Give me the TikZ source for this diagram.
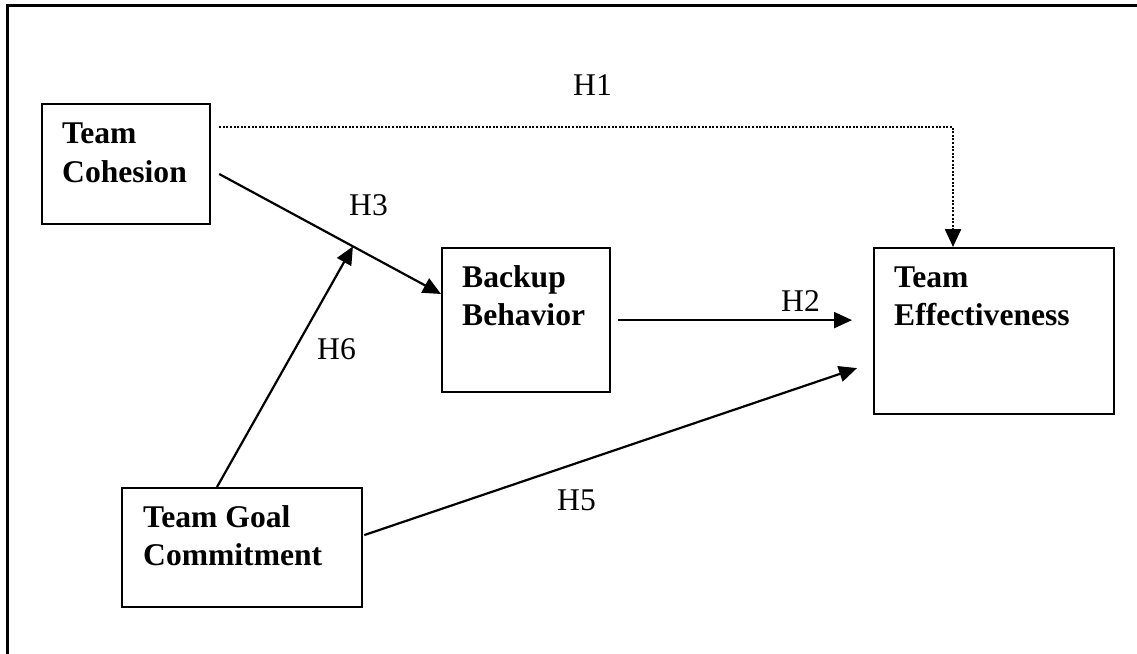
\documentclass[tikz,border=0pt]{standalone}
\usepackage{fontspec}
\setmainfont{Liberation Serif}
\usetikzlibrary{arrows.meta,calc}
\begin{document}
\begin{tikzpicture}[x=1pt,y=-1pt,
  box/.style={draw, line width=2.2pt, inner sep=0pt, anchor=north west},
  lbl/.style={font=\fontsize{31.6}{38}\selectfont\bfseries, anchor=base west, inner sep=0pt},
  hyp/.style={font=\fontsize{31.6}{38}\selectfont, anchor=base west, inner sep=0pt},
  arr/.style={line width=2.2pt, -{Triangle[length=18pt,width=16pt]}},
  dotline/.style={line width=2.4pt, dash pattern=on 2pt off 1.6pt, -{Triangle[length=18pt,width=16pt]}}
]
\useasboundingbox (0,0) rectangle (1137,653);
% outer frame (right and bottom edges lie outside the picture)
\draw[line width=3pt] (7,660) -- (7,5) -- (1145,5);

% boxes
\node[box, minimum width=168pt, minimum height=120pt] (coh) at (41,103) {};
\node[box, minimum width=168pt, minimum height=144pt] (bb) at (441,247) {};
\node[box, minimum width=240pt, minimum height=166pt] (te) at (873,247) {};
\node[box, minimum width=240pt, minimum height=119pt] (tgc) at (121,487) {};

% box texts
\node[lbl] (coh1) at (62,143) {Team};
\node[lbl] (coh2) at (62,182) {Cohesion};
\node[lbl] (bb1) at (462,287) {Backup};
\node[lbl] (bb2) at (462,325) {Behavior};
\node[lbl] (te1) at (894,287) {Team};
\node[lbl] (te2) at (894,325) {Effectiveness};
\node[lbl] (tgc1) at (143,527) {Team Goal};
\node[lbl] (tgc2) at (143,565) {Commitment};

% connector end points
\coordinate (h1s) at ($(coh.north east)+(8,24)$);
\coordinate (h3s) at ($(coh.north east)+(8,71)$);
\coordinate (h3e) at ($(bb.north west)+(0,47)$);
\coordinate (h6m) at ($(h3s)!0.603!(h3e)$);

% connectors
\draw[dotline] (h1s) -| ($(te.north west)+(80,0)$);
\draw[arr] (h3s) -- (h3e);
\draw[arr] ($(tgc.north west)+(96,0)$) -- (h6m);
\draw[arr] ($(bb.east)+(7,0)$) -- ($(te.west |- bb.east)+(-21,0)$);
\draw[arr] ($(tgc.east)+(1,-12.5)$) -- ($(te.west)+(-16,37)$);

% hypothesis labels
\node[hyp] (lh1) at (573,95) {H1};
\node[hyp] (lh3) at (349,215) {H3};
\node[hyp] (lh6) at (317,359) {H6};
\node[hyp] (lh2) at (781,311) {H2};
\node[hyp] (lh5) at (557,510) {H5};
\end{tikzpicture}
\end{document}
